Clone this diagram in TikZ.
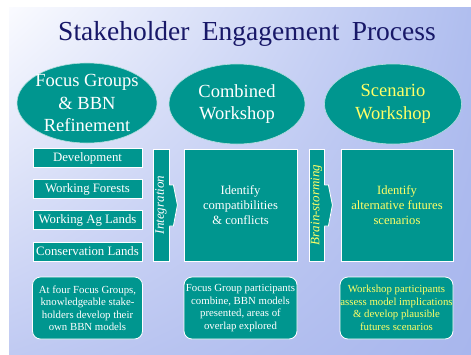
\documentclass[tikz,border=0pt]{standalone}
\usepackage{fontspec}
\setmainfont{Liberation Serif}
\usepackage{tikz}
\usetikzlibrary{shapes.geometric, shadings}

\definecolor{slideteal}{RGB}{0,150,143}
\definecolor{slideyellow}{RGB}{255,255,102}
\definecolor{titlenavy}{RGB}{24,24,104}
\definecolor{bgupleft}{RGB}{250,251,255}
\definecolor{bgupright}{RGB}{176,190,239}
\definecolor{bglowleft}{RGB}{192,202,242}
\definecolor{bglowright}{RGB}{168,182,237}

\tikzset{
  stage/.style={ellipse, fill=slideteal, draw=white!70!slideteal, line width=0.6pt,
    minimum width=#1, minimum height=80, inner sep=0pt},
  stagetext/.style={align=center, inner sep=0pt, font=\fontsize{18.5}{22.5}\selectfont},
  landbox/.style={rectangle, fill=slideteal, draw=white, line width=0.8pt,
    minimum width=109, minimum height=19, inner sep=0pt, font=\fontsize{12.8}{15}\selectfont},
  stepbox/.style={rectangle, fill=slideteal, draw=white, line width=0.8pt,
    minimum width=113, minimum height=112, inner sep=0pt, align=center,
    font=\fontsize{12.6}{15}\selectfont},
  barbox/.style={rectangle, fill=slideteal, draw=white, line width=0.8pt,
    minimum width=16, minimum height=112, inner sep=0pt},
  bartext/.style={rotate=90, inner sep=0pt, font=\fontsize{13}{15}\selectfont\itshape},
  notebox/.style={rectangle, rounded corners=8pt, fill=slideteal, draw=white, line width=0.8pt,
    minimum width=110, minimum height=62, inner sep=0pt, align=center,
    font=\fontsize{10.8}{12.5}\selectfont},
}

\begin{document}
\begin{tikzpicture}[x=1pt, y=-1pt]
\useasboundingbox (0,0) rectangle (471,354);
\shade[upper left=bgupleft, upper right=bgupright, lower left=bglowleft, lower right=bglowright]
  (9,7) rectangle (471,354);
%
\node(title) at (247,34) {\color{titlenavy}\fontsize{27.5}{30}\selectfont
  Stakeholder\hspace{0.45em}Engagement\hspace{0.45em}Process};
%
\node[stage=140](fg) at (87,103) {};
\node[stagetext, text=white](fgt) at (fg) {Focus Groups\\\& BBN\\Refinement};
%
\node[stage=136](cw) at (237,104) {};
\node[stagetext, text=white](cwt) at (cw) {Combined\\Workshop};
%
\node[stage=137](sw) at (393,104) {};
\node[stagetext, text=slideyellow](swt) at (sw) {Scenario\\Workshop};
%
\node[landbox, text=white](dev) at (87.5,158) {Development};
\node[landbox, text=white](forest) at (87.5,189) {Working Forests};
\node[landbox, text=white](ag) at (87.5,220) {Working Ag Lands};
\node[landbox, text=white](cons) at (87.5,251.5) {Conservation Lands};
%
\node[barbox](integ) at (161,205) {};
\fill[slideteal] ([xshift=-1pt,yshift=20pt]integ.east) -- ++(5,0) -- ++(4,20) -- ++(-4,21) -- ++(-5,0) -- cycle;
\draw[white, line width=0.8pt] ([yshift=20pt]integ.east) -- ++(4,0) -- ++(4,20) -- ++(-4,21) -- ++(-4,0);
\node[bartext, text=white](integt) at (integ) {Integration};
%
\node[stepbox, text=white](compat) at (240.5,205) {Identify\\compatibilities\\\& conflicts};
%
\node[barbox, minimum width=15](brain) at (316.5,205) {};
\fill[slideteal] ([xshift=-1pt,yshift=20pt]brain.east) -- ++(5,0) -- ++(4,20) -- ++(-4,21) -- ++(-5,0) -- cycle;
\draw[white, line width=0.8pt] ([yshift=20pt]brain.east) -- ++(4,0) -- ++(4,20) -- ++(-4,21) -- ++(-4,0);
\node[bartext, text=slideyellow](braint) at (brain) {Brain-storming};
%
\node[stepbox, minimum width=112, text=slideyellow](futures) at (397,205) {Identify\\alternative futures\\scenarios};
%
\node[notebox, text=white](note1) at (87.5,308) {At four Focus Groups,\\knowledgeable stake-\\holders develop their\\own BBN models};
\node[notebox, minimum width=113, text=white](note2) at (240.5,308) {Focus Group participants\\combine, BBN models\\presented, areas of\\overlap explored};
\node[notebox, minimum width=113, text=slideyellow](note3) at (396.5,308) {Workshop participants\\assess model implications\\\& develop plausible\\futures scenarios};
\end{tikzpicture}
\end{document}
